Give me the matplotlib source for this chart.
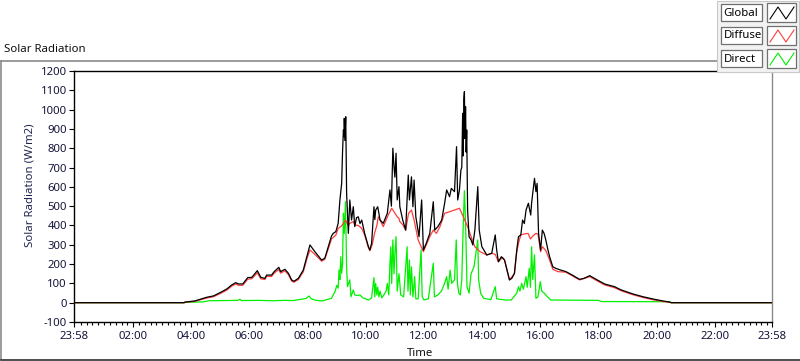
import matplotlib
matplotlib.use("Agg")
import matplotlib.pyplot as plt
from matplotlib.patches import Rectangle
from matplotlib.lines import Line2D
import numpy as np

plt.rcParams['font.family'] = ['Noto Sans', 'DejaVu Sans']

# ---------------- data (hours since midnight, W/m2) ----------------
global_t = [-0.033, 3.75, 3.78, 4.12, 4.53, 4.76, 4.99, 5.22, 5.39, 5.53, 5.62, 5.77, 5.94, 6.08,
            6.27, 6.39, 6.53, 6.59, 6.76, 6.85, 7.01, 7.07, 7.22, 7.34, 7.45, 7.53, 7.68, 7.85,
            7.97, 8.08, 8.25, 8.48, 8.59, 8.82, 8.88, 8.97, 9.05, 9.11, 9.17, 9.20, 9.23, 9.25,
            9.26, 9.28, 9.31, 9.34, 9.40, 9.45, 9.51, 9.57, 9.62, 9.68, 9.74, 9.80, 9.86, 9.96,
            10.09, 10.14, 10.20, 10.28, 10.31, 10.34, 10.41, 10.49, 10.60, 10.74, 10.83, 10.88,
            10.93, 10.97, 11.00, 11.04, 11.08, 11.14, 11.17, 11.27, 11.37, 11.46, 11.50, 11.57,
            11.62, 11.66, 11.72, 11.83, 11.92, 11.98, 12.08, 12.20, 12.32, 12.37, 12.48, 12.61,
            12.71, 12.78, 12.88, 12.94, 13.05, 13.12, 13.16, 13.22, 13.27, 13.30, 13.33, 13.35,
            13.37, 13.39, 13.41, 13.43, 13.45, 13.47, 13.50, 13.55, 13.62, 13.68, 13.75, 13.85,
            13.90, 13.99, 14.16, 14.33, 14.45, 14.50, 14.56, 14.66, 14.77, 14.94, 15.02, 15.11,
            15.19, 15.25, 15.33, 15.39, 15.45, 15.51, 15.59, 15.67, 15.70, 15.74, 15.80, 15.85,
            15.89, 15.94, 16.01, 16.07, 16.13, 16.19, 16.25, 16.32, 16.43, 16.53, 16.70, 16.88,
            17.10, 17.35, 17.50, 17.70, 17.92, 18.21, 18.55, 18.78, 19.19, 19.53, 19.88, 20.22,
            20.45, 20.50, 23.967]
global_v = [0, 0, 3, 9, 28, 35, 52, 71, 92, 104, 97, 97, 130, 131,
            166, 131, 126, 143, 143, 161, 183, 161, 173, 152, 118, 111, 126, 169,
            238, 299, 264, 221, 230, 345, 359, 368, 411, 532, 618, 780, 894, 860,
            955, 840, 963, 568, 359, 532, 428, 497, 394, 440, 445, 410, 428, 359,
            290, 273, 308, 497, 430, 480, 497, 428, 411, 463, 584, 500,
            800, 704, 650, 774, 532, 601, 497, 428, 376, 661, 532, 652,
            497, 635, 445, 342, 532, 273, 308, 359, 523, 376, 394, 428,
            515, 584, 549, 592, 575, 808, 532, 584, 687, 700, 981, 760,
            1050, 1093, 850, 1015, 780, 894, 480, 342, 325, 299, 376, 601,
            376, 290, 247, 256, 351, 273, 212, 238, 221, 118, 126, 152,
            273, 342, 351, 428, 410, 480, 515, 454, 515, 566, 644, 575,
            618, 359, 273, 376, 359, 325, 282, 238, 186, 178, 169, 161,
            143, 121, 126, 140, 121, 97, 83, 66, 45, 31, 19, 9,
            3, 0, 0]

diffuse_t = [-0.033, 3.75, 3.78, 4.12, 4.53, 4.76, 4.99, 5.22, 5.39, 5.53, 5.62, 5.77, 5.94, 6.08,
             6.27, 6.39, 6.53, 6.59, 6.76, 6.85, 7.01, 7.07, 7.22, 7.34, 7.45, 7.53, 7.68, 7.85,
             7.97, 8.08, 8.25, 8.48, 8.59, 8.82, 8.97, 9.05, 9.15, 9.23, 9.30, 9.40, 9.45, 9.57,
             9.62, 9.74, 9.86, 9.96, 10.09, 10.14, 10.22, 10.30, 10.38, 10.43, 10.49, 10.60, 10.77,
             10.89, 10.97, 11.08, 11.14, 11.17, 11.27, 11.37, 11.47, 11.57, 11.66, 11.80, 11.98,
             12.08, 12.20, 12.32, 12.43, 12.55, 12.71, 12.88, 13.05, 13.22, 13.30, 13.40, 13.50,
             13.62, 13.75, 13.93, 14.16, 14.33, 14.45, 14.56, 14.70, 14.77, 14.94, 15.11, 15.19,
             15.25, 15.33, 15.45, 15.58, 15.66, 15.74, 15.85, 15.92, 16.01, 16.07, 16.19, 16.32,
             16.43, 16.60, 16.88, 17.35, 17.70, 17.92, 18.21, 18.55, 18.78, 19.19, 19.53, 19.88,
             20.22, 20.45, 20.50, 23.967]
diffuse_v = [0, 0, 2, 7, 24, 31, 47, 65, 86, 97, 90, 90, 122, 124,
             155, 124, 120, 136, 136, 153, 172, 153, 165, 145, 112, 106, 120, 160,
             225, 273, 250, 215, 225, 330, 350, 385, 395, 411, 428, 400, 411, 420,
             402, 400, 385, 351, 285, 269, 300, 359, 400, 445, 428, 394, 454,
             489, 471, 445, 437, 420, 404, 376, 463, 480, 428, 325, 264,
             300, 342, 376, 359, 394, 463, 471, 480, 489, 463, 428, 394,
             342, 290, 264, 247, 256, 250, 212, 235, 221, 118, 150, 260,
             308, 351, 356, 359, 330, 345, 359, 356, 264, 290, 270, 221,
             173, 161, 158, 118, 135, 116, 92, 78, 62, 41, 27, 15,
             6, 2, 0, 0]

direct_t = [-0.033, 3.78, 3.80, 4.40, 4.60, 5.60, 5.67, 5.72, 6.30, 6.80, 7.20, 7.50, 7.80, 7.95,
            8.05, 8.12, 8.30, 8.50, 8.70, 8.82, 8.95, 9.00, 9.05, 9.08, 9.11, 9.14, 9.17, 9.20,
            9.23, 9.26, 9.30, 9.34, 9.37, 9.45, 9.49, 9.57, 9.62, 9.70, 9.80, 9.90, 10.10, 10.20,
            10.28, 10.31, 10.34, 10.38, 10.41, 10.45, 10.49, 10.55, 10.62, 10.70, 10.74, 10.79,
            10.83, 10.86, 10.89, 10.93, 10.97, 11.00, 11.04, 11.08, 11.14, 11.17, 11.20, 11.30,
            11.42, 11.45, 11.50, 11.53, 11.57, 11.62, 11.68, 11.72, 11.80, 11.90, 11.94, 12.00,
            12.15, 12.32, 12.36, 12.48, 12.60, 12.71, 12.78, 12.83, 12.90, 12.95, 13.05, 13.11,
            13.15, 13.20, 13.25, 13.30, 13.35, 13.39, 13.42, 13.45, 13.48, 13.55, 13.62, 13.72,
            13.85, 13.88, 13.95, 14.05, 14.30, 14.45, 14.50, 14.80, 15.00, 15.19, 15.25, 15.30,
            15.36, 15.42, 15.51, 15.55, 15.62, 15.66, 15.70, 15.74, 15.80, 15.85, 15.92, 16.00,
            16.05, 16.13, 16.25, 16.36, 18.00, 18.10, 20.45, 20.50, 23.967]
direct_v = [0, 0, 2, 4, 10, 12, 18, 11, 12, 10, 12, 11, 18, 22,
            35, 20, 12, 9, 18, 23, 60, 90, 75, 169, 120, 238, 152, 200,
            463, 359, 523, 186, 83, 118, 31, 66, 40, 37, 40, 25, 14, 25,
            130, 30, 100, 40, 80, 30, 60, 25, 40, 60, 100, 40,
            200, 290, 100, 325, 150, 250, 342, 60, 150, 100, 40, 30,
            290, 60, 221, 40, 186, 30, 135, 20, 20, 273, 30, 14,
            20, 204, 30, 40, 60, 100, 135, 70, 169, 100, 118, 325,
            100, 49, 40, 120, 400, 580, 463, 290, 83, 49, 150, 186,
            325, 118, 49, 23, 16, 83, 20, 14, 14, 49, 83, 60,
            100, 70, 135, 80, 178, 80, 290, 120, 247, 23, 30, 109,
            60, 50, 30, 14, 12, 6, 5, 0, 0]

series_names = ["Global", "Diffuse", "Direct"]
series_colors = ["#000000", "#ff3c3c", "#00f000"]

y_ticks = list(range(-100, 1201, 100))
x_tick_pos = [-1 / 30, 2, 4, 6, 8, 10, 12, 14, 16, 18, 20, 22, 24 - 1 / 30]
x_tick_labels = ["23:58", "02:00", "04:00", "06:00", "08:00", "10:00", "12:00",
                 "14:00", "16:00", "18:00", "20:00", "22:00", "23:58"]

# ---------------- figure ----------------
W, H = 800, 361
fig = plt.figure(figsize=(W / 100, H / 100), dpi=100)
fig.patch.set_facecolor("white")
FS = 8.2


def fx(x):
    return x / W


def fy(y):
    return 1 - y / H


# outer frame
fig.add_artist(Line2D([fx(1), fx(1)], [fy(61), fy(359)], color="#8a8a8a", lw=1.2))
fig.add_artist(Line2D([fx(1), fx(800)], [fy(61), fy(61)], color="#8a8a8a", lw=1.2))
fig.add_artist(Line2D([fx(1), fx(800)], [fy(359.5), fy(359.5)], color="#303030", lw=1.2))

txt_col = "#14143a"
fig.text(fx(4), fy(50), "Solar Radiation", fontsize=FS, color="#101010", va="center", ha="left")

L, R, T, B = 74, 772, 71, 322
ax = fig.add_axes([fx(L), fy(B), (R - L) / W, (B - T) / H])
ax.set_xlim(-1 / 30, 24 - 1 / 30)
ax.set_ylim(-100, 1200)

ax.plot(direct_t, direct_v, color=series_colors[2], lw=0.9, zorder=2)
ax.plot(diffuse_t, diffuse_v, color=series_colors[1], lw=0.9, zorder=3)
ax.plot(global_t, global_v, color=series_colors[0], lw=0.9, zorder=4)

ax.set_yticks(y_ticks)
ax.set_yticklabels([str(v) for v in y_ticks])
ax.set_xticks(x_tick_pos)
ax.set_xticklabels(x_tick_labels)
ax.set_xticks(np.arange(0.2, 24, 0.2), minor=True)
ax.tick_params(axis="y", direction="out", length=3.6, width=0.8, pad=1.5,
               labelsize=FS, labelcolor=txt_col)
ax.tick_params(axis="x", which="major", direction="out", length=3.8, width=0.8, pad=2.5,
               labelsize=FS, labelcolor=txt_col)
ax.tick_params(axis="x", which="minor", direction="out", length=2.0, width=0.8)

for s in ["left", "top", "bottom"]:
    ax.spines[s].set_color("black")
    ax.spines[s].set_linewidth(1.0)
ax.spines["right"].set_color("#8a8a8a")
ax.spines["right"].set_linewidth(1.0)

fig.text(fx(30), fy(185), "Solar Radiation (W/m2)", rotation=90, fontsize=FS,
         color="#1e2650", ha="center", va="center")
fig.text(fx(420), fy(354), "Time", fontsize=FS, color="#101010", ha="center", va="center")

# ---------------- legend (LabVIEW plot legend) ----------------
fig.add_artist(Rectangle((fx(717), fy(72)), fx(82), 71 / H, transform=fig.transFigure,
                         facecolor="#f2f2f2", edgecolor="#c8c8c8", lw=0.8, zorder=10))
row_tops = [4, 27, 50]
for name, col, top in zip(series_names, series_colors, row_tops):
    h = 17
    fig.add_artist(Rectangle((fx(721), fy(top + h)), fx(41), h / H, transform=fig.transFigure,
                             facecolor="white", edgecolor="#707070", lw=0.9, zorder=11))
    fig.text(fx(723.5), fy(top + h / 2 + 0.5), name, fontsize=FS, color="black",
             ha="left", va="center", zorder=12)
    fig.add_artist(Rectangle((fx(767), fy(top + h + 1)), fx(29), (h + 2) / H,
                             transform=fig.transFigure, facecolor="white",
                             edgecolor="#707070", lw=0.9, zorder=11))
    xs = [770, 778, 786, 794]
    ys = [top + h - 2, top + 3, top + h - 2, top + 3]
    fig.add_artist(Line2D([fx(v) for v in xs], [fy(v) for v in ys], color=col, lw=0.8, zorder=12))

fig.savefig("out.png", dpi=100, facecolor="white")
